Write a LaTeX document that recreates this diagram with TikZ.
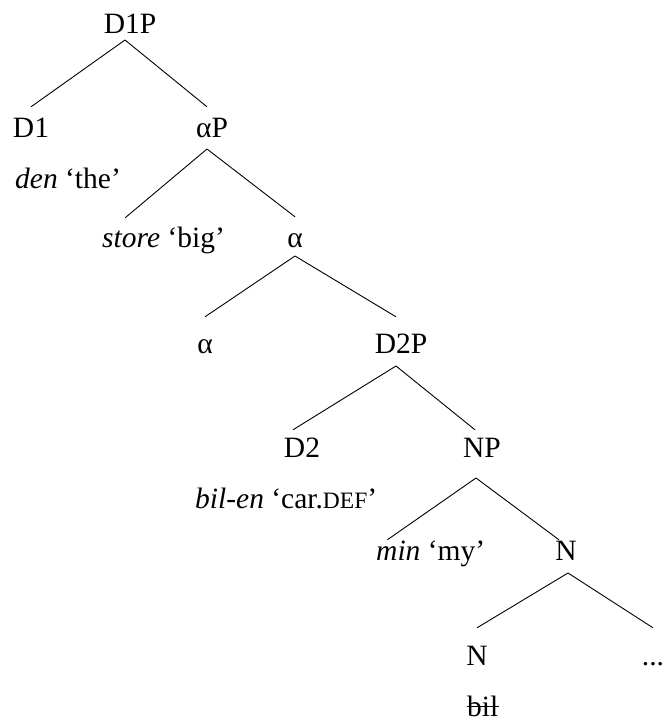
\documentclass[tikz,border=0pt]{standalone}
\usepackage{fontspec}
\setmainfont{Liberation Serif}
\newcommand{\smcap}[1]{{\fontsize{23.5}{23.5}\selectfont #1}}
\tikzset{
  cat/.style={inner sep=0pt, anchor=base, text height=19pt, text depth=0pt},
  gloss/.style={inner sep=0pt, anchor=base west},
  branch/.style={line width=0.9pt},
}
\begin{document}
\begin{tikzpicture}[x=1pt, y=-1pt, every node/.append style={font=\fontsize{29.5}{35}\selectfont}]
\useasboundingbox (0,0) rectangle (665,726);
	\node[cat](D1P) at (130,33){D1P};

	\node[cat](D1) at (31,137){D1};
	\node[gloss](denGloss) at (15,188){\textit{den} ‘the’};
	\node[cat](aP) at (212,137){αP};

	\node[cat, anchor=base west](store) at (102,247){\textit{store}};
	\node[gloss](bigGloss) at ([xshift=7pt]store.base east){‘big’};
	\node[cat](a1) at (295,247){α};

	\node[cat](a2) at (205,353){α};
	\node[cat](D2P) at (401,353){D2P};

	\node[cat](D2) at (302,457){D2};
	\node[gloss](bilenGloss) at (195,508){\textit{bil-en} ‘car.\smcap{DEF}’};
	\node[cat](NP) at (482,457){NP};

	\node[cat, anchor=base west](min) at (376,560){\textit{min}};
	\node[gloss](myGloss) at ([xshift=7pt]min.base east){‘my’};
	\node[cat](N1) at (566,560){N};

	\node[cat](N2) at (477,665){N};
	\node[gloss](bilGloss) at (467,716){bil};
	\draw[line width=0.9pt] ([yshift=10pt]bilGloss.base west) -- ([yshift=10pt]bilGloss.base east);
	\node[cat](dots) at (653,665){...};

	\draw[branch] ([xshift=-5pt, yshift=-7pt]D1P.base) -- ([yshift=11pt]D1.north);
	\draw[branch] ([xshift=-5pt, yshift=-7pt]D1P.base) -- ([xshift=-5pt, yshift=11pt]aP.north);

	\draw[branch] ([xshift=-5pt, yshift=-12pt]aP.base) -- ([xshift=-6pt, yshift=10pt]store.north);
	\draw[branch] ([xshift=-5pt, yshift=-12pt]aP.base) -- ([yshift=11pt]a1.north);

	\draw[branch] ([yshift=-9pt]a1.base) -- ([yshift=17pt]a2.north);
	\draw[branch] ([yshift=-9pt]a1.base) -- ([xshift=-5pt, yshift=17pt]D2P.north);

	\draw[branch] ([xshift=-5pt, yshift=-13pt]D2P.base) -- ([xshift=-9pt, yshift=8pt]D2.north);
	\draw[branch] ([xshift=-5pt, yshift=-13pt]D2P.base) -- ([xshift=-7pt, yshift=8pt]NP.north);

	\draw[branch] ([xshift=-6pt, yshift=-21pt]NP.base) -- ([xshift=-11pt, yshift=1pt]min.north);
	\draw[branch] ([xshift=-6pt, yshift=-21pt]NP.base) -- ([xshift=-7pt, yshift=1pt]N1.north);

	\draw[branch] ([xshift=2pt, yshift=-13pt]N1.base) -- ([yshift=18pt]N2.north);
	\draw[branch] ([xshift=2pt, yshift=-13pt]N1.base) -- ([xshift=0pt, yshift=18pt]dots.north);
\end{tikzpicture}
\end{document}
